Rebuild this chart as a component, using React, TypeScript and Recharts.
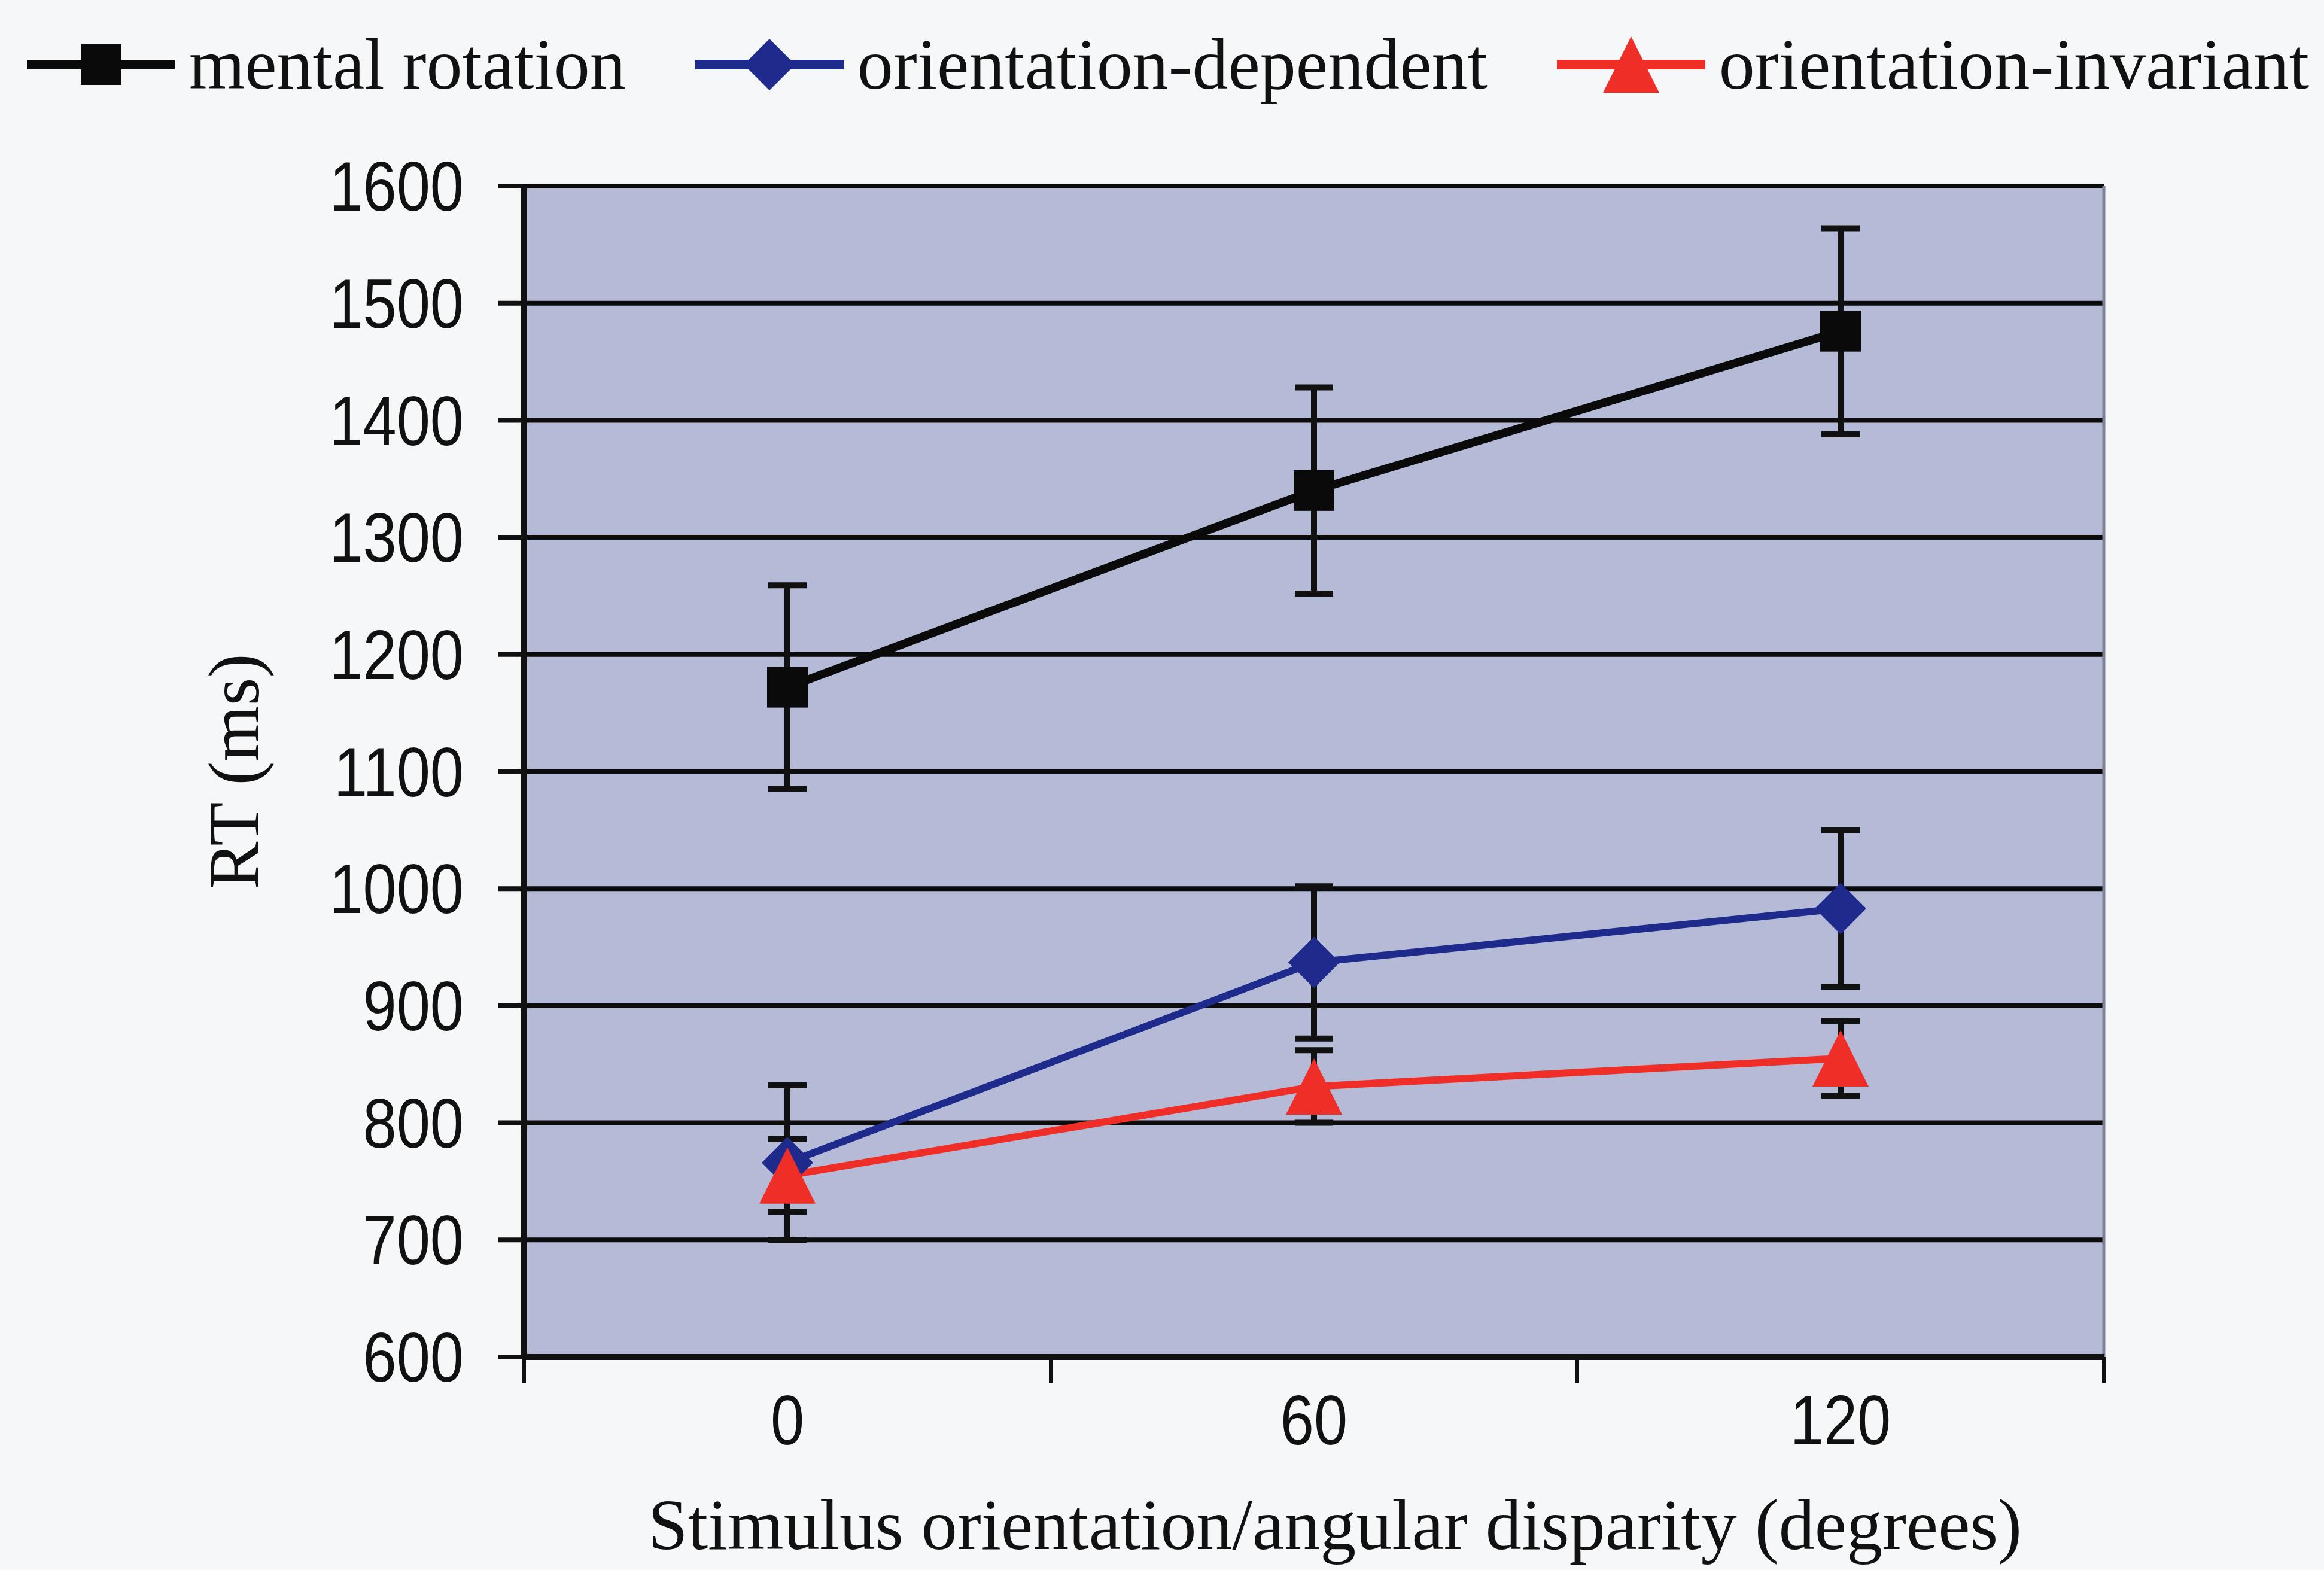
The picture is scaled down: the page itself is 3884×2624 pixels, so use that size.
import { LineChart, Line, XAxis, YAxis, CartesianGrid, ErrorBar, Legend, ReferenceLine } from "recharts";

// mean RT (ms) per stimulus orientation, with error bar half-lengths
const angles = [0, 60, 120];
const mentalRotation = [1172, 1340, 1476];
const mentalRotationErr = [87, 88, 88];
const orientationDependent = [766, 937, 983];
const orientationDependentErr = [66, 65, 67];
const orientationInvariant = [755, 831, 855];
const orientationInvariantErr = [31, 31, 32];

const yTicks = [600, 700, 800, 900, 1000, 1100, 1200, 1300, 1400, 1500, 1600];
// category boundaries on the angle axis (tick marks sit between categories)
const xBounds = [-30, 30, 90, 150];

const data = angles.map((a, i) => ({
  angle: a,
  mr: mentalRotation[i],
  mrErr: mentalRotationErr[i],
  dep: orientationDependent[i],
  depErr: orientationDependentErr[i],
  inv: orientationInvariant[i],
  invErr: orientationInvariantErr[i],
}));

const SERIF = "'Liberation Serif', 'Times New Roman', serif";
const SANS = "'Liberation Sans', Arial, sans-serif";
const INK = "#111";
const BLUE = "#1f2b8c";
const RED = "#ef2f27";
const PLOT_BG = "#b5bbd6";

const TICK_SIZE = 44;
const TICK_MARGIN = 20;
// tick numbers are drawn in a squeezed sans face
const SQUEEZE = 0.87;

const Square = ({ cx, cy, fill }: { cx: number; cy: number; fill: string }) => (
  <rect x={cx - 34} y={cy - 34} width={68} height={68} fill={fill} />
);
const Diamond = ({ cx, cy, fill }: { cx: number; cy: number; fill: string }) => (
  <polygon points={`${cx},${cy - 43} ${cx + 43},${cy} ${cx},${cy + 43} ${cx - 43},${cy}`} fill={fill} />
);
const Triangle = ({ cx, cy, fill }: { cx: number; cy: number; fill: string }) => (
  <polygon points={`${cx},${cy - 47} ${cx + 47},${cy + 47} ${cx - 47},${cy + 47}`} fill={fill} />
);

const series = [
  { name: "mental rotation", color: "#0a0a0a", Marker: Square },
  { name: "orientation-dependent", color: BLUE, Marker: Diamond },
  { name: "orientation-invariant", color: RED, Marker: Triangle },
];

const LegendRow = () => (
  <div style={{ display: "flex", alignItems: "center", height: 215, paddingLeft: 45, fontFamily: SERIF, fontSize: 120, color: INK }}>
    {series.map((s) => (
      <div key={s.name} style={{ display: "flex", alignItems: "center", marginRight: 116 }}>
        <svg width={248} height={110}>
          <line x1={0} x2={248} y1={55} y2={55} stroke={s.color} strokeWidth={16} />
          <s.Marker cx={124} cy={55} fill={s.color} />
        </svg>
        <span style={{ marginLeft: 23, whiteSpace: "nowrap" }}>{s.name}</span>
      </div>
    ))}
  </div>
);

const Num = ({ x, y, anchor, dy, value }: { x: number; y: number; anchor: "end" | "middle"; dy: string; value: number }) => (
  <text transform={`translate(${x},${y}) scale(${SQUEEZE},1)`} dy={dy} textAnchor={anchor} fontFamily={SANS} fontSize={116} fill={INK}>
    {value}
  </text>
);

const AngleTick = (props: any) => {
  const { x, y, payload } = props;
  if (angles.includes(payload.value)) {
    return <Num x={x} y={y} anchor="middle" dy="0.71em" value={payload.value} />;
  }
  const top = y - TICK_MARGIN - TICK_SIZE;
  return <line x1={x} x2={x} y1={top} y2={top + TICK_SIZE} stroke={INK} strokeWidth={6} />;
};

const RtTick = (props: any) => <Num x={props.x} y={props.y} anchor="end" dy="0.355em" value={props.payload.value} />;

const makeDot = (Marker: typeof Square, color: string) => (p: any) =>
  <Marker key={`d-${p.index}`} cx={p.cx} cy={p.cy} fill={color} />;

export default function App() {
  return (
    <div style={{ width: 3884, height: 2624, background: "#f6f7f8" }}>
      <style>{"body{margin:0}"}</style>
      <LineChart width={3884} height={2624} data={data} margin={{ top: 96, right: 368, bottom: 0, left: 0 }}>
        <Legend verticalAlign="top" align="left" content={() => <LegendRow />} wrapperStyle={{ top: 0, left: 0, width: 3884 }} />
        <CartesianGrid vertical={false} stroke="#0c0c0c" strokeWidth={8} fill={PLOT_BG} fillOpacity={1} />
        <XAxis
          dataKey="angle"
          type="number"
          domain={[-30, 150]}
          ticks={[xBounds[0], angles[0], xBounds[1], angles[1], xBounds[2], angles[2], xBounds[3]]}
          interval={0}
          height={356}
          tickSize={TICK_SIZE}
          tickMargin={TICK_MARGIN}
          tickLine={false}
          tick={AngleTick}
          axisLine={{ stroke: INK, strokeWidth: 10 }}
          label={{
            value: "Stimulus orientation/angular disparity (degrees)",
            position: "insideBottom",
            offset: 35,
            dx: 35,
            fontFamily: SERIF,
            fontSize: 120,
            fill: INK,
          }}
        />
        <YAxis
          type="number"
          domain={[600, 1600]}
          ticks={yTicks}
          interval={0}
          width={876}
          tickSize={TICK_SIZE}
          tickMargin={57}
          tick={RtTick}
          tickLine={{ stroke: INK, strokeWidth: 8 }}
          axisLine={{ stroke: INK, strokeWidth: 10 }}
          label={{
            value: "RT (ms)",
            angle: -90,
            position: "center",
            dx: -49,
            fontFamily: SERIF,
            fontSize: 120,
            fill: INK,
          }}
        />
        <ReferenceLine x={150} stroke="#7d8198" strokeWidth={5} />
        <Line type="linear" dataKey="mr" name={series[0].name} stroke={series[0].color} strokeWidth={14} dot={makeDot(Square, series[0].color)} activeDot={false} isAnimationActive={false}>
          <ErrorBar dataKey="mrErr" direction="y" width={32} stroke={INK} strokeWidth={10} />
        </Line>
        <Line type="linear" dataKey="dep" name={series[1].name} stroke={BLUE} strokeWidth={12} dot={makeDot(Diamond, BLUE)} activeDot={false} isAnimationActive={false}>
          <ErrorBar dataKey="depErr" direction="y" width={32} stroke={INK} strokeWidth={10} />
        </Line>
        <Line type="linear" dataKey="inv" name={series[2].name} stroke={RED} strokeWidth={12} dot={makeDot(Triangle, RED)} activeDot={false} isAnimationActive={false}>
          <ErrorBar dataKey="invErr" direction="y" width={32} stroke={INK} strokeWidth={10} />
        </Line>
      </LineChart>
    </div>
  );
}
